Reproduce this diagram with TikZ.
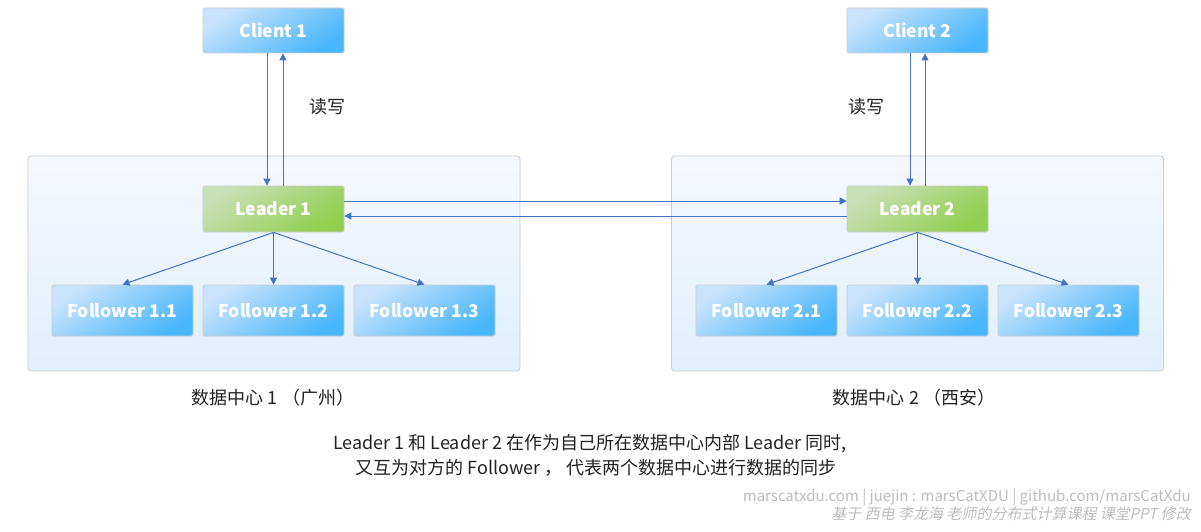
\documentclass[tikz,border=0pt]{standalone}
\usepackage{fontspec}
\setmainfont{Noto Sans CJK SC}
\newfontfamily\wmslant[FakeSlant=0.2]{Noto Sans CJK SC}
\usetikzlibrary{arrows.meta}
\definecolor{arrowc}{HTML}{4472C4}
\definecolor{bluelt}{HTML}{C9E3FC}
\definecolor{bluedk}{HTML}{48B6FB}
\definecolor{greenlt}{HTML}{C8E0B6}
\definecolor{greendk}{HTML}{92CF50}
\definecolor{boxborder}{HTML}{C8CCD2}
\definecolor{clustertop}{HTML}{F5F8FC}
\definecolor{clusterbot}{HTML}{E0F0FC}
\definecolor{txt}{HTML}{222222}
\definecolor{wm}{HTML}{BDBDBD}
\tikzset{
  boxbase/.style={draw=boxborder, line width=0.8pt, rounded corners=1.5pt, minimum width=141pt, inner sep=0pt, text=white, font=\fontsize{17.5}{21}\selectfont\bfseries},
  bluebox/.style={boxbase, minimum height=45pt, top color=bluelt, bottom color=bluedk, shading angle=35},
  greenbox/.style={boxbase, minimum height=46pt, top color=greenlt, bottom color=greendk, shading angle=35},
  follbox/.style={boxbase, minimum height=51pt, top color=bluelt, bottom color=bluedk, shading angle=35},
  cluster/.style={draw=boxborder, line width=0.8pt, rounded corners=3pt, top color=clustertop, bottom color=clusterbot, minimum width=492pt, minimum height=215pt, inner sep=0pt},
  conn/.style={draw=arrowc, line width=1pt, -{Triangle[width=7pt,length=7pt]}},
  lbl/.style={text=txt, font=\fontsize{18}{21}\selectfont, inner sep=0pt},
}
\begin{document}
\begin{tikzpicture}[x=1pt,y=-1pt]
\useasboundingbox[fill=white] (0,0) rectangle (1201,532);
% clusters
\node[cluster] (dc1) at (274,263.5) {};
\node[cluster] (dc2) at (917.5,263.5) {};
% clients
\node[bluebox] (c1) at (273.5,30.5) {Client 1};
\node[bluebox] (c2) at (917.5,30.5) {Client 2};
% leaders
\node[greenbox] (l1) at (273.5,209) {Leader 1};
\node[greenbox] (l2) at (917.5,209) {Leader 2};
% followers
\node[follbox] (f11) at (122.5,310.5) {Follower 1.1};
\node[follbox] (f12) at (273.5,310.5) {Follower 1.2};
\node[follbox] (f13) at (424.5,310.5) {Follower 1.3};
\node[follbox] (f21) at (766.5,310.5) {Follower 2.1};
\node[follbox] (f22) at (917.5,310.5) {Follower 2.2};
\node[follbox] (f23) at (1068.5,310.5) {Follower 2.3};
% client <-> leader
\draw[conn] ([xshift=-6.5pt]c1.south) -- ([xshift=-6.5pt]l1.north);
\draw[conn] ([xshift=9.5pt]l1.north) -- ([xshift=9.5pt]c1.south);
\draw[conn] ([xshift=-7.5pt]c2.south) -- ([xshift=-7.5pt]l2.north);
\draw[conn] ([xshift=7.5pt]l2.north) -- ([xshift=7.5pt]c2.south);
% leader <-> leader
\draw[conn] ([yshift=8pt]l1.east) -- ([yshift=8pt]l2.west);
\draw[conn] ([yshift=-7pt]l2.west) -- ([yshift=-7pt]l1.east);
% leader -> followers
\draw[conn] (l1.south) -- (f11.north);
\draw[conn] (l1.south) -- (f12.north);
\draw[conn] (l1.south) -- (f13.north);
\draw[conn] (l2.south) -- (f21.north);
\draw[conn] (l2.south) -- (f22.north);
\draw[conn] (l2.south) -- (f23.north);
% labels
\node[lbl] (rw1) at (327,107) {读写};
\node[lbl] (rw2) at (866,107) {读写};
\node[lbl] (dcl1) at (273,398) {数据中心 1 （广州）};
\node[lbl] (dcl2) at (914,398) {数据中心 2 （西安）};
\node[lbl] (note1) at (590,444) {Leader 1 和 Leader 2 在作为自己所在数据中心内部 Leader 同时,};
\node[lbl] (note2) at (596,468) {又互为对方的 Follower ， 代表两个数据中心进行数据的同步};
\node[text=wm, font=\fontsize{15}{17}\selectfont, inner sep=0pt, anchor=east] (wm1) at (1191,497) {marscatxdu.com | juejin : marsCatXDU | github.com/marsCatXdu};
\node[text=wm, font=\wmslant\fontsize{15}{17}\selectfont, inner sep=0pt, anchor=east] (wm2) at (1191,514) {基于 西电 李龙海 老师的分布式计算课程 课堂PPT 修改};
\end{tikzpicture}
\end{document}
